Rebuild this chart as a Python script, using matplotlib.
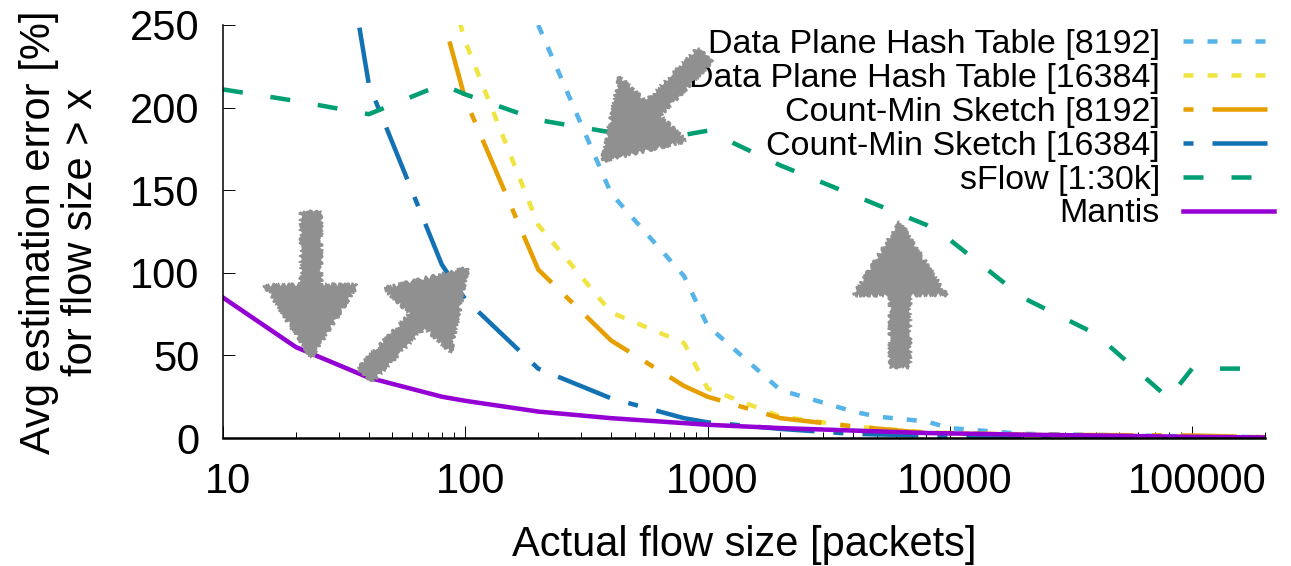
import matplotlib
matplotlib.use('Agg')
import matplotlib.pyplot as plt
from matplotlib.ticker import FixedLocator, LogLocator, NullFormatter
from matplotlib.transforms import ScaledTranslation

plt.rcParams['font.family'] = ['Liberation Sans', 'DejaVu Sans']
plt.rcParams['lines.scale_dashes'] = False

# dati
x_dp_8192 = [200, 400, 800, 1000, 2000, 4000, 5000, 8000, 10000, 20000, 100000, 200000]
y_dp_8192 = [250, 148, 98, 68, 29, 16, 13, 10, 6, 2.5, 1, 0.5]
x_dp_16384 = [80, 100, 200, 400, 800, 1000, 2000, 4000, 8000, 10000, 20000, 100000, 200000]
y_dp_16384 = [290, 240, 129, 76, 57.5, 30, 13, 7, 3.5, 3, 2, 1, 0.5]
x_cm_8192 = [80, 100, 200, 400, 800, 1000, 2000, 4000, 8000, 10000, 20000, 100000, 200000]
y_cm_8192 = [257, 205, 102, 59, 31.5, 25, 12, 7, 3, 3, 2, 1.5, 0.5]
x_cm_16384 = [20, 40, 80, 100, 200, 400, 800, 1000, 2000, 4000, 8000, 10000, 200000]
y_cm_16384 = [480, 214, 105, 84, 42, 24, 12, 9.5, 5.5, 2.5, 1.5, 1, 0.3]
x_sflow = [10, 20, 40, 80, 100, 200, 400, 800, 1000, 2000, 4000, 8000, 10000, 20000, 40000, 80000, 100000, 200000]
y_sflow = [211, 204, 196, 214, 208, 192.5, 185, 183.5, 186, 165, 147, 129, 120, 85, 63, 24, 42, 42]
x_mantis = [10, 20, 40, 80, 100, 200, 400, 800, 1000, 2000, 4000, 8000, 10000, 20000, 40000, 100000, 200000]
y_mantis = [85, 55, 36.5, 25, 22.5, 16, 12, 9, 8, 6, 4.5, 3, 2.8, 2, 1.5, 0.7, 0.3]

xticks = [10, 100, 1000, 10000, 100000]
xticklabels = ['10', '100', '1000', '10000', '100000']
yticks = [0, 50, 100, 150, 200, 250]

W, H = 1291, 566
px = 0.72  # pixel -> punti a dpi 100

fig = plt.figure(figsize=(W / 100, H / 100), dpi=100)
ax = fig.add_axes([223 / W, (H - 438) / H, (1265 - 223) / W, (438 - 25) / H])

dots = (0, (10 * px, 14 * px))
dashdot = (0, (10 * px, 19 * px, 56 * px, 19 * px))
dashed = (0, (20 * px, 28 * px))
lw = 4.5 * px

ax.plot(x_dp_8192, y_dp_8192, color='#56b4e9', lw=lw, ls=dots, label='Data Plane Hash Table [8192]')
ax.plot(x_dp_16384, y_dp_16384, color='#f0e442', lw=lw, ls=dots, label='Data Plane Hash Table [16384]')
ax.plot(x_cm_8192, y_cm_8192, color='#e69f00', lw=lw, ls=dashdot, label='Count-Min Sketch [8192]')
ax.plot(x_cm_16384, y_cm_16384, color='#1272b4', lw=lw, ls=dashdot, label='Count-Min Sketch [16384]')
ax.plot(x_sflow, y_sflow, color='#009e73', lw=lw, ls=dashed, label='sFlow [1:30k]')
ax.plot(x_mantis, y_mantis, color='#9400d3', lw=lw, label='Mantis')

ax.set_xscale('log')
ax.set_xlim(10, 200000)
ax.set_ylim(0, 250)
ax.set_xticks(xticks, labels=xticklabels)
ax.xaxis.set_minor_locator(LogLocator(base=10, subs=range(2, 10)))
ax.xaxis.set_minor_formatter(NullFormatter())
ax.yaxis.set_major_locator(FixedLocator(yticks))

for s in ['top', 'right']:
    ax.spines[s].set_visible(False)
ax.spines['left'].set_linewidth(1.1)
ax.spines['bottom'].set_linewidth(1.8)

ax.tick_params(axis='both', which='major', direction='in', length=12 * px, width=0.7, labelsize=30, pad=17)
ax.tick_params(axis='x', which='minor', direction='in', length=6 * px, width=0.7)

# le etichette x nel riferimento sono spostate un po' a destra
for lab in ax.get_xticklabels():
    lab.set_transform(lab.get_transform() + ScaledTranslation(5 / 100, 0, fig.dpi_scale_trans))

ax.set_xlabel('Actual flow size [packets]', fontsize=30, labelpad=17)
fig.text(60 / W, (H - 232) / H, 'Avg estimation error [%]\nfor flow size > x', fontsize=30,
         rotation=90, ha='center', va='center', multialignment='center', linespacing=1.05)

leg = ax.legend(loc='upper right', bbox_to_anchor=(1 + 2 / 1042, 1 - 4 / 413), frameon=False, markerfirst=False,
                fontsize=24.5, handlelength=2.47, handletextpad=0.68, labelspacing=0.085,
                borderaxespad=0, borderpad=0)
leg.set_zorder(5)
# la linea di Mantis nella legenda sporge di piu
mantis_handle = leg.get_lines()[-1]
xd = list(mantis_handle.get_xdata())
xd[-1] = xd[-1] + 7 * px
mantis_handle.set_xdata(xd)


def freccia(tail, tip, shaft=20, head=93, head_len=73):
    # frecce grigie disegnate a mano, coordinate in pixel dell'immagine
    ann = ax.annotate('', xy=(tip[0], H - tip[1]), xytext=(tail[0], H - tail[1]),
                      xycoords='figure pixels', textcoords='figure pixels', zorder=6,
                      annotation_clip=False,
                      arrowprops=dict(width=shaft * px, headwidth=head * px, headlength=head_len * px,
                                      shrink=0, facecolor='#909090', edgecolor='#909090', lw=1))
    ann.arrow_patch.set_sketch_params(2, 6, 5)


freccia((311, 212), (311, 358))
freccia((365, 375), (468, 268))
freccia((705, 55), (602, 161))
freccia((900, 367), (900, 222))

fig.savefig('out.png', dpi=100)
